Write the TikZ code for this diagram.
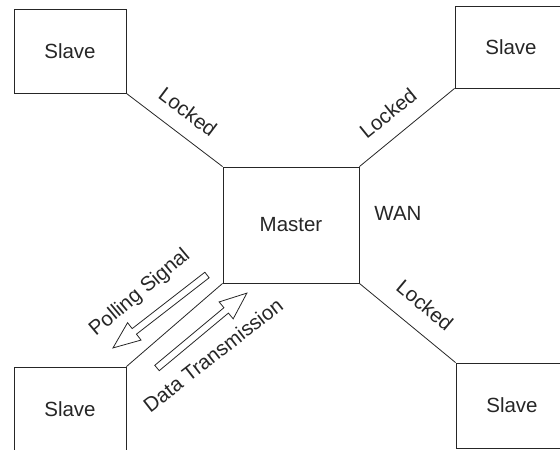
\documentclass[tikz,border=0pt]{standalone}
\usepackage{fontspec}
\setmainfont{Liberation Sans}
\begin{document}
\begin{tikzpicture}[x=1pt,y=-1pt,
  txt/.style={font=\fontsize{20.5}{24}\selectfont, text=black!85},
  box/.style={draw=black!85, line width=0.8pt, minimum width=112pt, minimum height=84pt, inner sep=0pt, txt},
  link/.style={draw=black!85, line width=0.8pt},
  lbl/.style={txt, inner sep=0pt},
  hollow/.style={draw=black!85, line width=0.8pt, line join=miter}]
\useasboundingbox (0,0) rectangle (560,450);
\clip (0,0) rectangle (560,450);
% boxes
\node[box] (s1) at (70,51) {Slave};
\node[box, minimum height=82pt] (s2) at (511,47) {Slave};
\node[box] (s3) at (70,409) {Slave};
\node[box, minimum height=85pt] (s4) at (512,405.5) {Slave};
\node[box, minimum width=136pt, minimum height=116pt] (m) at (291,225) {Master};
% connectors
\draw[link] (s1.south east) -- (m.north west);
\draw[link] (s2.south west) -- (m.north east);
\draw[link] (s4.north west) -- (m.south east);
\draw[link] (s3.north east) -- (m.south west);
% labels
\node[lbl, rotate=-37] (l1) at (188,112) {Locked};
\node[lbl, rotate=39] (l2) at (388,113) {Locked};
\node[lbl, rotate=-40] (l3) at (425,305) {Locked};
\node[lbl] (wan) at (398,213) {WAN};
\node[lbl, rotate=40] (poll) at (140,293) {Polling Signal};
\node[lbl, rotate=38] (data) at (213,355) {Data Transmission};
% hollow arrows
\begin{scope}[shift={(207,275)}, rotate=217.8]
  \draw[hollow] (0,-3.5) -- (92,-3.5) -- (92,-11) -- (119,0) -- (92,11) -- (92,3.5) -- (0,3.5) -- cycle;
\end{scope}
\begin{scope}[shift={(157,368)}, rotate=39.8]
  \draw[hollow] (0,-3.5) -- (90,-3.5) -- (90,-11) -- (117,0) -- (90,11) -- (90,3.5) -- (0,3.5) -- cycle;
\end{scope}
\end{tikzpicture}
\end{document}
